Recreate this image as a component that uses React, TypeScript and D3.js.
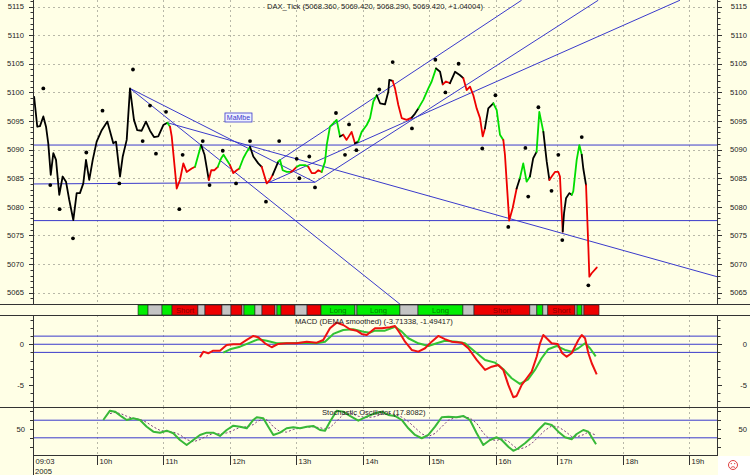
import React from "react";
import * as d3 from "d3";

// ---------- DATA ----------
const hourLabels = ["09:03", "10h", "11h", "12h", "13h", "14h", "15h", "16h", "17h", "18h", "19h"];
const hourMinutes = [3, 60, 120, 180, 240, 300, 360, 420, 480, 540, 600]; // minutes after 09:00
const priceTicks = [5065, 5070, 5075, 5080, 5085, 5090, 5095, 5100, 5105, 5110, 5115];
const macdTicks = [0, -5];
const stochTicks = [50];

const titleMain = "DAX_Tick (5068.360, 5069.420, 5068.290, 5069.420, +1.04004)";
const titleMacd = "MACD (DEMA smoothed) (-3.71338, -1.49417)";
const titleStoch = "Stochastic Oscillator (17.8082)";

// [minute, price, colour-of-following-segment]
const price: [number, number, string][] = [
  [4, 5099.2, "k"], [6.8, 5094.0, "k"], [9.2, 5094.1, "k"], [12.2, 5095.8, "k"], [14.6, 5094.0, "k"],
  [16.6, 5091.1, "k"], [18.8, 5085.6, "k"], [21.1, 5089.4, "k"], [23.5, 5088.2, "k"], [26.4, 5082.1, "k"],
  [29.4, 5085.3, "k"], [32.4, 5084.4, "k"], [35.3, 5081.2, "k"], [38.9, 5077.7, "k"], [41.9, 5082.4, "k"],
  [44.8, 5082.4, "k"], [47.8, 5084.1, "k"], [50.2, 5088.2, "k"], [53.1, 5084.7, "k"], [56.2, 5088.2, "k"],
  [59.7, 5091.4, "k"], [64.3, 5093.4, "k"], [69.4, 5094.9, "k"], [74.8, 5091.1, "k"], [77.3, 5091.4, "k"],
  [80.9, 5085.3, "k"], [83.4, 5088.8, "k"], [87.0, 5091.7, "k"], [90.0, 5100.7, "k"], [93.6, 5095.2, "k"],
  [96.6, 5093.4, "k"], [100.6, 5093.3, "k"], [104.5, 5094.9, "k"], [108.2, 5093.3, "k"], [111.8, 5092.2, "k"],
  [115.7, 5092.3, "k"], [120.3, 5094.3, "k"], [123.9, 5094.7, "g"], [126.3, 5094.0, "r"], [127.8, 5092.3, "r"],
  [132.3, 5083.2, "r"], [135.2, 5084.7, "r"], [138.2, 5087.6, "r"], [141.2, 5086.1, "r"], [145.7, 5086.7, "r"],
  [148.7, 5087.0, "g"], [154.1, 5090.8, "k"], [157.2, 5089.1, "k"], [161.0, 5084.7, "r"], [163.2, 5086.4, "r"],
  [166.1, 5086.4, "r"], [169.1, 5087.0, "g"], [172.1, 5088.5, "g"], [174.2, 5089.1, "g"], [180, 5087.3, "r"],
  [183.0, 5085.9, "r"], [186.1, 5086.4, "r"], [188.5, 5086.7, "g"], [192.1, 5088.5, "g"], [195.2, 5089.6, "g"],
  [198.2, 5090.5, "k"], [201.2, 5088.8, "k"], [205.7, 5087.6, "k"], [208.8, 5087.0, "r"], [213.4, 5084.1, "r"],
  [216.4, 5084.7, "r"], [218.8, 5085.6, "k"], [223.9, 5087.9, "g"], [225.5, 5088.2, "g"], [227.9, 5086.4, "g"],
  [231.6, 5086.1, "g"], [235.2, 5086.1, "r"], [237.6, 5086.4, "r"], [240.6, 5087.0, "g"], [243.6, 5087.3, "g"],
  [248.1, 5087.3, "g"], [251.0, 5087.0, "r"], [254.1, 5085.9, "r"], [257.0, 5085.9, "r"], [260.0, 5086.4, "r"],
  [263.0, 5086.1, "g"], [266.0, 5087.9, "g"], [267.5, 5090.8, "g"], [270.4, 5094.0, "g"], [273.4, 5094.6, "g"],
  [276.4, 5095.2, "g"], [279.4, 5092.3, "k"], [282.3, 5092.6, "r"], [285.3, 5091.7, "r"], [289.8, 5093.1, "r"],
  [292.8, 5091.1, "k"], [295.7, 5091.4, "g"], [298.8, 5093.1, "g"], [303.4, 5094.3, "g"], [306.4, 5095.5, "g"],
  [309.4, 5098.4, "g"], [312.5, 5099.5, "k"], [315.5, 5098.1, "k"], [320, 5097.9, "k"], [323.0, 5100.1, "k"],
  [323.9, 5102.2, "k"], [327.0, 5102.0, "r"], [329.1, 5100.7, "r"], [332.1, 5097.8, "r"], [335.2, 5095.5, "r"],
  [339.7, 5095.2, "r"], [344.3, 5095.6, "k"], [347.3, 5096.3, "k"], [350.3, 5097.2, "g"], [354.8, 5098.7, "g"],
  [359.4, 5100.7, "g"], [362.4, 5101.9, "g"], [366.3, 5104.2, "k"], [369.9, 5103.6, "k"], [372.3, 5101.4, "r"],
  [375.2, 5101.9, "r"], [378.8, 5101.6, "k"], [383.3, 5103.6, "k"], [387.8, 5103.0, "k"], [390.7, 5102.5, "r"],
  [393.7, 5100.4, "r"], [396.7, 5101.0, "r"], [399.7, 5099.5, "r"], [402.7, 5097.2, "r"], [405.7, 5095.5, "r"],
  [408.1, 5092.3, "r"], [410.1, 5093.7, "k"], [413.1, 5097.2, "k"], [417.6, 5098.1, "g"], [420.7, 5096.9, "g"],
  [423.9, 5092.6, "g"], [427.2, 5091.7, "r"], [428.8, 5089.1, "r"], [430.5, 5084.4, "r"], [433.0, 5077.6, "r"],
  [436.4, 5079.8, "r"], [440.3, 5083.2, "k"], [443.5, 5085.0, "g"], [446.8, 5087.6, "g"], [450.1, 5084.4, "g"],
  [453.4, 5085.3, "k"], [456.6, 5088.5, "k"], [459.9, 5089.6, "g"], [462.6, 5096.6, "g"], [466.6, 5093.1, "k"],
  [469.9, 5087.9, "k"], [472.5, 5084.7, "r"], [474.8, 5085.3, "r"], [478.0, 5086.1, "r"], [481.2, 5086.1, "r"],
  [482.7, 5085.3, "r"], [484.3, 5078.9, "r"], [485.2, 5075.7, "k"], [486.4, 5078.9, "k"], [488.2, 5081.5, "k"],
  [491.2, 5082.4, "k"], [493.4, 5082.1, "g"], [494.8, 5082.7, "g"], [497.9, 5088.2, "g"], [500.3, 5090.8, "g"],
  [502.5, 5089.1, "k"], [503.9, 5086.7, "k"], [506.4, 5083.8, "r"], [508.5, 5073.0, "r"], [509.4, 5067.8, "r"],
  [511.5, 5068.4, "r"], [516.1, 5069.4, "r"],
];

const swingDots: [number, number][] = [
  [12.2, 5100.7], [18.4, 5083.8], [26.7, 5079.6], [38.6, 5074.5], [50.5, 5089.5], [65.0, 5096.8],
  [80.3, 5084.1], [92.7, 5104.0], [101.5, 5091.5], [108.2, 5097.7], [113.6, 5089.3], [122.7, 5096.6],
  [134.6, 5079.6], [137.6, 5089.1], [155.6, 5091.5], [161.7, 5083.8], [173.5, 5089.8], [185.5, 5084.1],
  [198.2, 5091.5], [212.7, 5080.9], [224.7, 5091.5], [240.6, 5088.4], [243.0, 5085.0], [251.9, 5088.8],
  [257.0, 5083.4], [275.8, 5096.4], [283.9, 5089.1], [287.5, 5094.4], [294.1, 5089.9], [314.8, 5100.5],
  [327.0, 5105.3], [344.5, 5093.7], [365.7, 5105.7], [374.7, 5100.0], [386.5, 5105.0], [407.7, 5090.2],
  [419.5, 5099.5], [432.1, 5076.5], [448.9, 5090.3], [451.7, 5081.8], [461.7, 5097.4], [474.6, 5082.8],
  [481.2, 5089.1], [484.8, 5074.2], [502.5, 5092.2], [508.5, 5066.3],
];

const levelLines = [5090.8, 5077.6];
// [minuteA, priceA, minuteB, priceB]
const trendLines: [number, number, number, number][] = [
  [3, 5084.0, 257, 5084.3],
  [90, 5100.7, 333.6, 5063.0],
  [90, 5100.7, 257, 5084.3],
  [123.9, 5094.7, 626, 5067.8],
  [225.5, 5088.2, 445.2, 5116.1],
  [257, 5084.3, 517.5, 5116.1],
  [213.4, 5084.1, 591.8, 5116.1],
];
const noteText = "MaMbe";
const notePos: [number, number] = [175.5, 5096.4];

// [startMinute, endMinute, kind (L long / S short / N neutral), label]
const signalCells: [number, number, string, string][] = [
  [97.3, 106.4, "L", ""], [106.4, 119.1, "N", ""], [119.1, 128.1, "L", ""], [128.1, 151.3, "S", "Short"],
  [151.3, 157.6, "N", ""], [157.6, 172.8, "S", ""], [172.8, 180.9, "N", ""], [180.9, 190.9, "S", ""],
  [190.9, 192.7, "N", ""], [192.7, 202.7, "L", ""], [202.7, 209.1, "N", ""], [209.1, 220.9, "S", ""],
  [220.9, 222.7, "N", ""], [222.7, 226.4, "L", ""], [226.4, 239.1, "S", ""], [239.1, 249.9, "N", ""],
  [249.9, 262.4, "S", ""], [262.4, 292.8, "L", "Long"], [292.8, 294.6, "N", ""], [294.6, 333.6, "L", "Long"],
  [333.6, 350, "N", ""], [350, 390.4, "L", "Long"], [390.4, 400.3, "N", ""], [400.3, 453.3, "S", "Short"],
  [453.3, 460.2, "N", ""], [460.2, 466.1, "L", ""], [466.1, 471, "N", ""], [471, 496.4, "S", "Short"],
  [496.4, 498.2, "N", ""], [498.2, 502.7, "L", ""], [502.7, 504.5, "N", ""], [504.5, 518.2, "S", ""],
];

const macdLine: [number, number][] = [
  [153.1, -1.6], [156.1, -0.91], [160.5, -1.11], [165.0, -0.79], [171.0, -0.79], [177.0, -0.09],
  [183.0, 0], [189.1, 0], [195.2, 0.53], [201.2, 1.02], [205.7, 0.86], [211.8, 0.12], [217.9, -0.37],
  [223.9, 0.04], [231.5, 0.12], [240.6, 0.12], [249.6, 0.32], [258.5, 0.2], [264.4, 0.53], [270.4, 1.97],
  [276.4, 2.66], [282.3, 2.37], [288.3, 1.85], [294.3, 1.67], [298.8, 1.27], [303.4, 1.14], [310.9, 1.97],
  [317.0, 1.97], [324.5, 2.09], [329.1, 2.25], [333.6, 1.35], [338.2, 0.32], [344.3, -0.7], [350.3, -0.91],
  [356.4, -0.49], [362.4, 0.32], [368.3, 1.02], [374.3, 0.62], [380.3, 0.32], [389.3, 0.2], [395.2, -0.49],
  [402.7, -1.93], [410.2, -3.16], [416.2, -2.76], [422.3, -2.55], [427.2, -3.16], [432.1, -5.0],
  [437.0, -6.52], [440.3, -6.36], [445.3, -5.0], [450.2, -4.18], [455.1, -3.37], [460.0, -1.53],
  [463.3, 0.12], [466.5, 1.14], [470.8, 0.62], [474.7, 0.12], [480.6, 0.04], [484.8, -1.11], [488.8, -1.53],
  [493.3, -1.11], [499.4, 0.53], [502.5, 1.14], [505.5, 0.74], [508.5, -1.11], [511.6, -2.34], [516.1, -3.71],
];
const macdSignal: [number, number][] = [
  [174.0, -1.03], [180, -0.62], [189.1, -0.3], [198.2, 0.2], [205.7, 0.62], [213.4, 0.44], [222.4, 0.12],
  [234.5, 0.12], [246.5, 0.2], [258.5, 0.12], [266.0, 0.32], [273.4, 1.27], [282.3, 1.76], [291.3, 1.85],
  [300.3, 1.55], [306.4, 1.43], [310.9, 1.67], [320, 1.67], [329.1, 2.16], [335.2, 1.55], [341.2, 0.74],
  [350.3, 0.12], [359.4, -0.21], [366.9, 0.12], [374.3, 0.44], [384.8, 0.32], [392.2, 0.12], [401.2, -0.91],
  [410.2, -1.93], [419.1, -2.26], [427.2, -3.08], [435.4, -4.18], [443.5, -4.88], [451.7, -4.31],
  [458.3, -3.16], [464.8, -1.72], [471.3, -0.62], [479.6, -0.21], [487.3, -0.7], [493.3, -0.91],
  [499.4, -0.49], [505.5, 0.12], [510.0, -0.49], [515.2, -1.49],
];
const macdLevels = [1, 0, -1];

const stochK: [number, number][] = [
  [65.7, 70.5], [71.8, 91.7], [76.4, 89.4], [82.5, 78], [87.0, 70.5], [93.0, 74.4], [99.1, 70.5],
  [105.2, 55.3], [111.2, 44], [117.3, 41.7], [123.3, 46.2], [129.2, 40.3], [135.2, 25.1], [141.2, 13.7],
  [147.1, 25.1], [153.1, 36.5], [159.1, 41.7], [165.0, 41.7], [171.0, 34.2], [177.0, 47.8], [183.0, 57.6],
  [189.1, 55.3], [195.2, 51.7], [201.2, 70.5], [204.3, 76.7], [210.3, 74.4], [214.8, 55.3], [219.4, 36.5],
  [225.5, 41.7], [231.5, 51.7], [237.5, 54], [243.6, 51.7], [249.6, 55.3], [255.5, 56.9], [261.5, 47.8],
  [266.0, 46.2], [270.4, 66.7], [276.4, 91.7], [282.3, 89.4], [288.3, 79.6], [295.8, 69], [303.4, 78],
  [310.9, 85.8], [317.0, 89.4], [323.0, 81.9], [329.1, 79.6], [335.2, 70.5], [341.2, 51.7], [347.3, 36.5],
  [353.4, 29], [359.4, 36.5], [365.4, 55.3], [371.4, 76.7], [377.3, 78], [384.8, 76.7], [390.7, 79.6],
  [396.7, 70.5], [402.7, 40.3], [408.6, 13.7], [414.6, 25.1], [420.7, 31.2], [425.6, 25.1], [432.1, 9.9],
  [437.0, 0.5], [441.9, 6.2], [448.5, 17.6], [455.1, 31.2], [461.6, 47.8], [468.2, 63], [474.8, 59.2],
  [481.2, 44], [487.3, 31.2], [493.3, 26.7], [497.9, 38.7], [503.9, 47.8], [508.5, 44], [515.5, 15.3],
];
const stochD: [number, number][] = [
  [71.8, 85], [76.4, 88], [82.5, 84], [87.0, 79], [93.0, 74], [99.1, 72], [105.2, 65], [111.2, 55],
  [117.3, 47], [123.3, 44], [129.2, 43], [135.2, 37], [141.2, 26], [147.1, 21], [153.1, 26], [159.1, 34],
  [165.0, 40], [171.0, 39], [177.0, 41], [183.0, 47], [189.1, 54], [195.2, 55], [201.2, 60], [204.3, 66],
  [210.3, 74], [214.8, 69], [219.4, 55], [225.5, 44], [231.5, 43], [237.5, 49], [243.6, 52], [249.6, 54],
  [255.5, 55], [261.5, 53], [266.0, 50], [270.4, 53], [276.4, 68], [282.3, 83], [288.3, 87], [295.8, 79],
  [303.4, 76], [310.9, 78], [317.0, 84], [323.0, 86], [329.1, 83], [335.2, 77], [341.2, 67], [347.3, 53],
  [353.4, 39], [359.4, 33], [365.4, 40], [371.4, 55], [377.3, 70], [384.8, 77], [390.7, 78], [396.7, 75],
  [402.7, 63], [408.6, 41], [414.6, 26], [420.7, 24], [425.6, 28], [432.1, 22], [437.0, 12], [441.9, 4],
  [448.5, 8], [455.1, 17], [461.6, 32], [468.2, 47], [474.8, 57], [481.2, 55], [487.3, 45], [493.3, 33],
  [497.9, 32], [503.9, 37], [508.5, 43], [515.5, 36],
];
const stochLevels = [70, 30];

// ---------- STYLE ----------
const BG = "#FFFFE6";
const BLUE = "#3a3acb";
const GRID = "#b8b8a8";
const AXIS = "#333333";
const FONT = "'Liberation Sans', Arial, sans-serif";
const FS = 7.6;
const priceColour: Record<string, string> = { k: "#000000", g: "#00dd00", r: "#ee0000" };
const cellFill: Record<string, string> = { L: "#00ee00", S: "#ee0000", N: "#c4c4c4" };
const cellText: Record<string, string> = { L: "#007a00", S: "#8a0000", N: "#333" };

export default function App() {
  const L = 33, R = 717;
  const mainTop = 0, mainBot = 304;
  const stripTop = 304, stripBot = 315;
  const macdTop = 315, macdBot = 407;
  const stTop = 407, stBot = 455;

  const x = d3
    .scaleLinear()
    .domain([...hourMinutes, 626])
    .range([L, 97, 163, 230, 296, 363, 429, 496, 557, 623, 689, R]);
  const yMain = d3.scaleLinear().domain([5063.03, 5116.14]).range([mainBot, mainTop]);
  const yMacd = d3.scaleLinear().domain([-7.72, 3.6]).range([macdBot, macdTop]);
  const ySt = d3.scaleLinear().domain([-9, 100]).range([stBot, stTop]);

  // price runs by colour
  const runs: { c: string; pts: [number, number][] }[] = [];
  let cur: { c: string; pts: [number, number][] } | null = null;
  for (let i = 0; i < price.length - 1; i++) {
    const c = price[i][2];
    if (!cur || cur.c !== c) {
      cur = { c, pts: [[price[i][0], price[i][1]]] };
      runs.push(cur);
    }
    cur.pts.push([price[i + 1][0], price[i + 1][1]]);
  }
  const lineMain = d3.line<[number, number]>().x((d) => x(d[0])).y((d) => yMain(d[1]));
  const lineMacd = d3.line<[number, number]>().x((d) => x(d[0])).y((d) => yMacd(d[1]));
  const lineSt = d3.line<[number, number]>().x((d) => x(d[0])).y((d) => ySt(d[1]));

  const minorMain = d3.range(5064, 5117, 1);
  const minorMacd = d3.range(-7, 4, 1);
  const minorSt = [10, 30, 50, 70, 90];

  const vGrid = hourMinutes.slice(1);

  const sep = (y: number, key: string) => (
    <line key={key} x1={0} x2={750} y1={y + 0.5} y2={y + 0.5} stroke={AXIS} strokeWidth={1} />
  );

  return (
    <div style={{ position: "absolute", left: 0, top: 0, width: 750, height: 475 }}>
      <svg width={750} height={475} style={{ display: "block", fontFamily: FONT }}>
        <defs>
          <clipPath id="mainClip">
            <rect x={L} y={mainTop} width={R - L} height={mainBot - mainTop} />
          </clipPath>
          <clipPath id="macdClip">
            <rect x={L} y={macdTop} width={R - L} height={macdBot - macdTop} />
          </clipPath>
          <clipPath id="stClip">
            <rect x={L} y={stTop} width={R - L} height={stBot - stTop} />
          </clipPath>
        </defs>
        <rect x={0} y={0} width={750} height={475} fill={BG} />
        <rect x={718} y={456} width={32} height={19} fill="#ffffff" />

        {/* grids */}
        {priceTicks.map((v) => (
          <line key={"hg" + v} x1={L} x2={R} y1={Math.round(yMain(v)) + 0.5} y2={Math.round(yMain(v)) + 0.5}
            stroke={GRID} strokeDasharray="2,3" />
        ))}
        {vGrid.map((m) => (
          <g key={"vg" + m}>
            <line x1={Math.round(x(m)) + 0.5} x2={Math.round(x(m)) + 0.5} y1={mainTop} y2={mainBot} stroke={GRID} strokeDasharray="2,3" />
            <line x1={Math.round(x(m)) + 0.5} x2={Math.round(x(m)) + 0.5} y1={macdTop} y2={macdBot} stroke={GRID} strokeDasharray="2,3" />
            <line x1={Math.round(x(m)) + 0.5} x2={Math.round(x(m)) + 0.5} y1={stTop} y2={stBot} stroke={GRID} strokeDasharray="2,3" />
          </g>
        ))}

        {/* main panel */}
        <g clipPath="url(#mainClip)">
          {levelLines.map((v) => (
            <line key={"lv" + v} x1={L} x2={R} y1={yMain(v)} y2={yMain(v)} stroke={BLUE} strokeWidth={1} />
          ))}
          {trendLines.map((t, i) => {
            const x1 = x(t[0]), y1 = yMain(t[1]), x2 = x(t[2]), y2 = yMain(t[3]);
            return <line key={"tl" + i} x1={x1} y1={y1} x2={x2} y2={y2} stroke={BLUE} strokeWidth={1} />;
          })}
          {runs.map((r, i) => (
            <path key={"run" + i} d={lineMain(r.pts) || ""} fill="none" stroke={priceColour[r.c]}
              strokeWidth={1.8} strokeLinejoin="round" strokeLinecap="round" />
          ))}
          {swingDots.map((d, i) => (
            <circle key={"dot" + i} cx={x(d[0])} cy={yMain(d[1])} r={1.9} fill="#000" />
          ))}
          <g>
            <rect x={x(notePos[0])} y={yMain(notePos[1])} width={27} height={9} fill="#eef0ff" stroke={BLUE} strokeWidth={0.8} />
            <text x={x(notePos[0]) + 13.5} y={yMain(notePos[1]) + 7.3} fontSize={7} fill={BLUE} textAnchor="middle">{noteText}</text>
          </g>
        </g>
        <text x={375} y={9} fontSize={FS} textAnchor="middle" fill="#222">{titleMain}</text>

        {/* main axes */}
        <line x1={L + 0.5} x2={L + 0.5} y1={0} y2={mainBot} stroke={AXIS} />
        <line x1={R + 0.5} x2={R + 0.5} y1={0} y2={mainBot} stroke={AXIS} />
        {minorMain.map((v) => {
          const y = Math.round(yMain(v)) + 0.5;
          const len = v % 5 === 0 ? 4 : 2.5;
          return (
            <g key={"mt" + v}>
              <line x1={L - len} x2={L} y1={y} y2={y} stroke={AXIS} />
              <line x1={R + 1} x2={R + 1 + len} y1={y} y2={y} stroke={AXIS} />
            </g>
          );
        })}
        {priceTicks.map((v) => (
          <g key={"pl" + v}>
            <text x={24} y={yMain(v) + 2.7} fontSize={FS} textAnchor="end" fill="#222">{v}</text>
            <text x={747} y={yMain(v) + 2.7} fontSize={FS} textAnchor="end" fill="#222">{v}</text>
          </g>
        ))}

        {/* signal strip */}
        {sep(stripTop, "s1")}
        {signalCells.map((c, i) => {
          const x0 = x(c[0]), x1 = x(c[1]);
          return (
            <g key={"cell" + i}>
              <rect x={x0} y={stripTop + 1} width={Math.max(0.5, x1 - x0)} height={stripBot - stripTop - 1}
                fill={cellFill[c[2]]} stroke="#222" strokeWidth={0.6} />
              {c[3] && (
                <text x={(x0 + x1) / 2} y={stripBot - 2} fontSize={FS} textAnchor="middle" fill={cellText[c[2]]}>
                  {c[3]}
                </text>
              )}
            </g>
          );
        })}
        {sep(stripBot, "s2")}

        {/* MACD panel */}
        <g clipPath="url(#macdClip)">
          {macdLevels.map((v) => (
            <line key={"ml" + v} x1={L} x2={R} y1={yMacd(v)} y2={yMacd(v)} stroke={BLUE} strokeWidth={1} />
          ))}
          <path d={lineMacd(macdSignal) || ""} fill="none" stroke="#33c433" strokeWidth={2} strokeLinejoin="round" />
          <path d={lineMacd(macdLine) || ""} fill="none" stroke="#ee1111" strokeWidth={2} strokeLinejoin="round" />
        </g>
        <text x={295} y={324} fontSize={FS} fill="#222">{titleMacd}</text>
        <line x1={L + 0.5} x2={L + 0.5} y1={macdTop} y2={macdBot} stroke={AXIS} />
        <line x1={R + 0.5} x2={R + 0.5} y1={macdTop} y2={macdBot} stroke={AXIS} />
        {minorMacd.map((v) => {
          const y = Math.round(yMacd(v)) + 0.5;
          const len = v % 5 === 0 ? 4 : 2.5;
          return (
            <g key={"mm" + v}>
              <line x1={L - len} x2={L} y1={y} y2={y} stroke={AXIS} />
              <line x1={R + 1} x2={R + 1 + len} y1={y} y2={y} stroke={AXIS} />
            </g>
          );
        })}
        {macdTicks.map((v) => (
          <g key={"mlab" + v}>
            <text x={24} y={yMacd(v) + 2.7} fontSize={FS} textAnchor="end" fill="#222">{v}</text>
            <text x={747} y={yMacd(v) + 2.7} fontSize={FS} textAnchor="end" fill="#222">{v}</text>
          </g>
        ))}
        {sep(macdBot, "s3")}

        {/* Stochastic panel */}
        <g clipPath="url(#stClip)">
          {stochLevels.map((v) => (
            <line key={"sl" + v} x1={L} x2={R} y1={ySt(v)} y2={ySt(v)} stroke={BLUE} strokeWidth={1} />
          ))}
          <path d={lineSt(stochD) || ""} fill="none" stroke="#7a3a7a" strokeWidth={1} strokeDasharray="2,2" />
          <path d={lineSt(stochK) || ""} fill="none" stroke="#38b838" strokeWidth={2} strokeLinejoin="round" />
        </g>
        <text x={322} y={415} fontSize={FS} fill="#222">{titleStoch}</text>
        <line x1={L + 0.5} x2={L + 0.5} y1={stTop} y2={stBot} stroke={AXIS} />
        <line x1={R + 0.5} x2={R + 0.5} y1={stTop} y2={stBot} stroke={AXIS} />
        {minorSt.map((v) => {
          const y = Math.round(ySt(v)) + 0.5;
          return (
            <g key={"sm" + v}>
              <line x1={L - 3} x2={L} y1={y} y2={y} stroke={AXIS} />
              <line x1={R + 1} x2={R + 4} y1={y} y2={y} stroke={AXIS} />
            </g>
          );
        })}
        {stochTicks.map((v) => (
          <g key={"slab" + v}>
            <text x={25} y={ySt(v) + 2.7} fontSize={FS} textAnchor="end" fill="#222">{v}</text>
            <text x={747} y={ySt(v) + 2.7} fontSize={FS} textAnchor="end" fill="#222">{v}</text>
          </g>
        ))}

        {/* x axis */}
        <line x1={L} x2={R + 1} y1={stBot + 0.5} y2={stBot + 0.5} stroke={AXIS} />
        {hourMinutes.map((m, i) => {
          const xx = Math.round(x(m)) + 0.5;
          return (
            <g key={"xa" + m}>
              <line x1={xx} x2={xx} y1={stBot} y2={stBot + 10} stroke={AXIS} />
              <text x={xx + 2} y={464} fontSize={FS} fill="#222">{hourLabels[i]}</text>
            </g>
          );
        })}
        <line x1={L + 0.5} x2={L + 0.5} y1={stBot} y2={475} stroke={AXIS} />
        <text x={35} y={474} fontSize={FS} fill="#222">2005</text>

        {/* status icon */}
        <g>
          <circle cx={733} cy={465} r={4.5} fill="none" stroke="#e04040" strokeWidth={1} />
          <circle cx={731.3} cy={463.6} r={0.7} fill="#e04040" />
          <circle cx={734.7} cy={463.6} r={0.7} fill="#e04040" />
          <path d="M730.8,467.6 Q733,465.6 735.2,467.6" fill="none" stroke="#e04040" strokeWidth={0.9} />
        </g>
      </svg>
    </div>
  );
}
